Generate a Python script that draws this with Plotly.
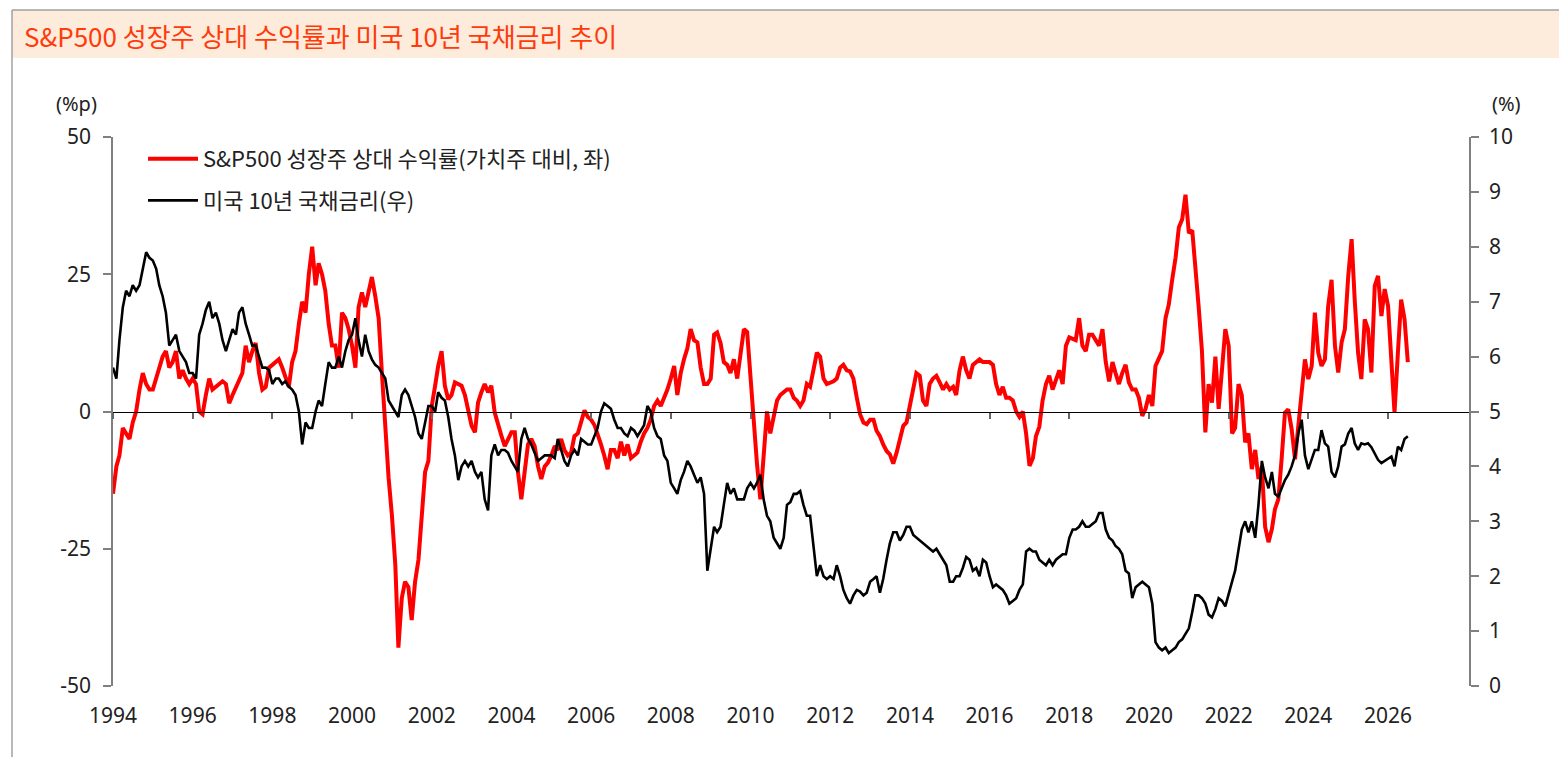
import pandas as pd
import plotly.graph_objects as go

# ---- Data (monthly) ----
# S&P500 growth relative return vs value (%p, left axis)
g1994 = [-15, -10, -8, -3, -4, -5, -2, 0, 4, 7, 5, 4]
g1995 = [4, 6, 7.5, 10, 11, 8, 9, 11, 6, 7.5, 6, 5]
g1996 = [6, 5, 0, -0.5, 3, 6, 4, 4.5, 5, 5.5, 5, 1.5]
g1997 = [3, 4.5, 5.5, 7, 12, 9, 11, 12.5, 7, 4, 4.5, 8]
g1998 = [8.5, 9, 9.5, 8, 6, 4.5, 9, 11, 16, 20, 18, 25]
g1999 = [30, 23, 27, 25, 22, 16, 12, 12, 8, 18, 17, 15]
g2000 = [12, 8, 19, 21.7, 19, 22, 24.5, 21, 17, 7, -4, -12]
g2001 = [-19, -28, -43, -34, -31, -32, -38, -31, -27, -19, -11, -9]
g2002 = [1, 4.7, 8.3, 11, 4.7, 2.2, 3, 5.3, 5, 4.7, 3, -0.2]
g2003 = [-2.6, -3.8, 1.6, 3.5, 5, 3.5, 4.7, -0.2, -2.6, -4.4, -6.3, -5]
g2004 = [-3.8, -3.8, -11, -16, -11, -6, -5, -6.3, -10, -12.3, -10, -9.3]
g2005 = [-8, -6.3, -7, -5, -7, -8, -7.5, -4.5, -4, -2, 0.2, -1]
g2006 = [-1.5, -2.5, -4, -6, -8, -10.5, -7, -7, -8.5, -5.5, -8, -6]
g2007 = [-8.5, -8, -7.5, -5.5, -4, -3, -1.5, 1, 2, 1, 2.5, 4]
g2008 = [6, 8.3, 3, 7, 9.5, 11.5, 15, 13, 12.6, 8, 5, 5]
g2009 = [6, 14, 14.4, 12.5, 9, 8.5, 7, 9.5, 6, 10, 15, 14.5]
g2010 = [6, 0, -9.5, -16, -7.5, 0, -4, -1, 2, 3, 3.5, 4]
g2011 = [4, 2.5, 2, 1, 2, 5, 4.5, 7.5, 10.7, 10, 6, 5]
g2012 = [5.2, 5.5, 6, 8, 8.5, 7.5, 7.3, 6, 2.5, -0.5, -2, -2.3]
g2013 = [-1.5, -1.5, -3.5, -4.5, -6, -7.2, -7.8, -9.5, -7.5, -5, -2.6, -2]
g2014 = [1, 3.5, 7, 6.5, 2, 1, 5, 6, 6.5, 5.3, 4, 5]
g2015 = [4, 4.5, 3, 7.5, 10, 7.5, 6, 8.5, 9, 9.5, 9, 9]
g2016 = [9, 8.5, 5, 3, 4.5, 2.5, 2.5, 2, 0, -1, 0, -4]
g2017 = [-9.9, -8.5, -4.5, -2.8, 2, 5, 6.5, 4, 6, 7.5, 5, 12]
g2018 = [13.5, 13.2, 13, 17, 12, 11, 14, 14, 13, 12, 15, 9]
g2019 = [5.5, 9, 7, 5, 7, 8.5, 5.3, 4, 4, 2.5, -0.8, 0.5]
g2020 = [3, 1, 8.3, 9.5, 11, 17, 19.5, 24, 28, 33.5, 35, 39.5]
g2021 = [32.5, 33, 27, 19, 11, -3.8, 5, 1.6, 10, 0.5, 7.7, 15]
g2022 = [12, -4, -3, 5, 3, -5.6, -4, -10.5, -7, -12.3, -10, -21]
g2023 = [-23.8, -21.4, -17.8, -16, -8.7, -0.2, 0.4, -3.2, -8.7, -2.6, 4.7, 9.5]
g2024 = [5.9, 8.3, 18, 10.7, 8.3, 9.5, 19.2, 24, 12, 7.1, 12.6, 15]
g2025 = [24.7, 31.4, 20.4, 10.7, 5.9, 16.8, 15, 7.1, 22.9, 24.7, 17.4, 22.3]
g2026 = [19.2, 8.3, -0.2, 10.7, 20.4, 16.8, 9]

# US 10Y Treasury yield (%, right axis)
b1994 = [5.8, 5.6, 6.3, 6.9, 7.2, 7.1, 7.3, 7.2, 7.3, 7.6, 7.9, 7.8]
b1995 = [7.75, 7.6, 7.3, 7.1, 6.8, 6.2, 6.3, 6.4, 6.1, 6.0, 5.9, 5.7]
b1996 = [5.7, 5.6, 6.4, 6.6, 6.85, 7.0, 6.7, 6.8, 6.6, 6.3, 6.1, 6.3]
b1997 = [6.5, 6.4, 6.8, 6.9, 6.6, 6.4, 6.2, 6.2, 6.0, 5.8, 5.8, 5.75]
b1998 = [5.5, 5.6, 5.6, 5.5, 5.55, 5.45, 5.4, 5.3, 5.0, 4.4, 4.8, 4.7]
b1999 = [4.7, 5.0, 5.2, 5.1, 5.5, 5.9, 5.8, 5.8, 6.0, 5.8, 6.1, 6.3]
b2000 = [6.4, 6.7, 6.3, 6.0, 6.4, 6.1, 5.95, 5.85, 5.8, 5.7, 5.6, 5.2]
b2001 = [5.1, 5.0, 4.9, 5.3, 5.4, 5.3, 5.1, 4.9, 4.6, 4.5, 4.8, 5.1]
b2002 = [5.1, 5.0, 5.35, 5.25, 5.2, 4.9, 4.5, 4.2, 3.75, 4.0, 4.1, 4.0]
b2003 = [4.1, 3.9, 3.8, 3.9, 3.4, 3.2, 4.2, 4.4, 4.2, 4.3, 4.3, 4.25]
b2004 = [4.1, 4.0, 3.9, 4.5, 4.7, 4.5, 4.4, 4.25, 4.1, 4.15, 4.2, 4.2]
b2005 = [4.2, 4.15, 4.5, 4.3, 4.1, 4.0, 4.2, 4.3, 4.2, 4.5, 4.45, 4.4]
b2006 = [4.4, 4.55, 4.7, 5.0, 5.15, 5.1, 5.05, 4.85, 4.7, 4.7, 4.6, 4.55]
b2007 = [4.7, 4.65, 4.55, 4.65, 4.75, 5.1, 5.0, 4.7, 4.55, 4.5, 4.2, 4.1]
b2008 = [3.7, 3.6, 3.5, 3.75, 3.9, 4.1, 4.0, 3.85, 3.7, 3.8, 3.5, 2.1]
b2009 = [2.5, 2.9, 2.8, 2.9, 3.3, 3.7, 3.5, 3.6, 3.4, 3.4, 3.4, 3.6]
b2010 = [3.7, 3.6, 3.7, 3.85, 3.4, 3.1, 3.0, 2.7, 2.6, 2.5, 2.7, 3.3]
b2011 = [3.35, 3.5, 3.5, 3.55, 3.3, 3.1, 3.1, 2.6, 2.0, 2.2, 2.0, 1.95]
b2012 = [2.0, 1.95, 2.2, 2.0, 1.75, 1.6, 1.5, 1.65, 1.75, 1.72, 1.65, 1.7]
b2013 = [1.9, 1.95, 2.0, 1.7, 1.95, 2.3, 2.6, 2.8, 2.8, 2.65, 2.75, 2.9]
b2014 = [2.9, 2.75, 2.7, 2.65, 2.6, 2.55, 2.5, 2.45, 2.5, 2.4, 2.3, 2.2]
b2015 = [1.9, 1.9, 2.0, 2.0, 2.15, 2.35, 2.3, 2.1, 2.15, 2.0, 2.3, 2.25]
b2016 = [2.0, 1.8, 1.85, 1.8, 1.75, 1.65, 1.5, 1.55, 1.6, 1.75, 1.85, 2.45]
b2017 = [2.5, 2.45, 2.45, 2.3, 2.25, 2.2, 2.3, 2.2, 2.3, 2.35, 2.4, 2.4]
b2018 = [2.7, 2.85, 2.85, 2.9, 3.0, 2.9, 2.9, 2.95, 3.0, 3.15, 3.15, 2.85]
b2019 = [2.7, 2.65, 2.55, 2.5, 2.4, 2.1, 2.05, 1.6, 1.8, 1.85, 1.9, 1.85]
b2020 = [1.8, 1.5, 0.8, 0.7, 0.65, 0.7, 0.6, 0.65, 0.7, 0.8, 0.85, 0.95]
b2021 = [1.05, 1.35, 1.65, 1.65, 1.6, 1.5, 1.3, 1.25, 1.4, 1.6, 1.55, 1.45]
b2022 = [1.7, 1.9, 2.1, 2.5, 2.85, 3.0, 2.8, 3.0, 2.7, 3.3, 4.1, 3.8]
b2023 = [3.6, 3.9, 3.5, 3.45, 3.6, 3.75, 3.85, 4.0, 4.2, 4.6, 4.85, 4.2]
b2024 = [3.95, 4.15, 4.3, 4.3, 4.66, 4.42, 4.36, 3.9, 3.8, 4.0, 4.36, 4.4]
b2025 = [4.6, 4.7, 4.42, 4.3, 4.42, 4.4, 4.42, 4.35, 4.24, 4.12, 4.06, 4.1]
b2026 = [4.15, 4.18, 4.0, 4.36, 4.3, 4.5, 4.55]

growth_rel = sum([g1994, g1995, g1996, g1997, g1998, g1999, g2000, g2001, g2002,
                  g2003, g2004, g2005, g2006, g2007, g2008, g2009, g2010, g2011,
                  g2012, g2013, g2014, g2015, g2016, g2017, g2018, g2019, g2020,
                  g2021, g2022, g2023, g2024, g2025, g2026], [])
ust10y = sum([b1994, b1995, b1996, b1997, b1998, b1999, b2000, b2001, b2002,
              b2003, b2004, b2005, b2006, b2007, b2008, b2009, b2010, b2011,
              b2012, b2013, b2014, b2015, b2016, b2017, b2018, b2019, b2020,
              b2021, b2022, b2023, b2024, b2025, b2026], [])

dates_g = pd.date_range("1994-01-01", periods=len(growth_rel), freq="MS")
dates_b = pd.date_range("1994-01-01", periods=len(ust10y), freq="MS")

# axis ticks / labels
year_ticks = [f"{y}-01-01" for y in range(1994, 2027, 2)]
year_labels = [str(y) for y in range(1994, 2027, 2)]
left_ticks = [-50, -25, 0, 25, 50]
left_labels = ["-50", "-25", "0", "25", "50"]
right_ticks = list(range(0, 11))
right_labels = [str(v) for v in right_ticks]

name_g = "S&P500 성장주 상대 수익률(가치주 대비, 좌)"
name_b = "미국 10년 국채금리(우)"
title_text = "S&P500 성장주 상대 수익률과 미국 10년 국채금리 추이"
left_unit = "(%p)"
right_unit = "(%)"

x_range = ["1994-01-01", "2028-01-22"]
FONT = "Noto Sans CJK KR, Noto Sans, sans-serif"
NUMFONT = "Noto Sans, Open Sans, sans-serif"
AXIS_GRAY = "#808080"
TXT = "#222222"

fig = go.Figure()
fig.add_trace(go.Scatter(x=dates_g, y=growth_rel, name=name_g, mode="lines",
                         line=dict(color="#FF0000", width=4),
                         xaxis="x", yaxis="y", legendgroup="g"))
fig.add_trace(go.Scatter(x=dates_b, y=ust10y, name=name_b, mode="lines",
                         line=dict(color="#000000", width=2.6),
                         xaxis="x2", yaxis="y2", legendgroup="b"))

# layout geometry (page has an 8px body offset)
OFF = 8
W, H = 1567 - OFF, 757 - OFF
L, T = 113 - OFF, 137 - OFF
R = W - (1470 - OFF)
B = H - (686 - OFF)
pw, ph = W - L - R, H - T - B


def px(xp):
    return (xp - OFF - L) / pw


def py(yp):
    return (H - B - (yp - OFF)) / ph


fig.update_layout(
    width=W, height=H,
    margin=dict(l=L, r=R, t=T, b=B, pad=0),
    paper_bgcolor="white", plot_bgcolor="white",
    font=dict(family=FONT, size=20, color=TXT),
    showlegend=True,
    legend=dict(x=px(143), y=py(138), xanchor="left", yanchor="top",
                bgcolor="rgba(0,0,0,0)", font=dict(family=FONT, size=22, color=TXT),
                tracegroupgap=10, itemwidth=50),
    xaxis=dict(range=x_range, type="date", tickvals=year_ticks, ticktext=year_labels,
               showline=False, ticks="", showgrid=False,
               zeroline=False, tickfont=dict(family=NUMFONT, size=21, color=TXT),
               ticklabelstandoff=15, automargin=False),
    xaxis2=dict(range=x_range, type="date", overlaying="x", anchor="free", position=0.5,
                tickvals=year_ticks, showticklabels=False,
                showline=True, linecolor="#000000", linewidth=1,
                ticks="outside", ticklen=6, tickcolor="#666666", tickwidth=1.5,
                showgrid=False, zeroline=False, automargin=False),
    yaxis=dict(range=[-50, 50], tickvals=left_ticks, ticktext=left_labels,
               showline=True, linecolor=AXIS_GRAY, linewidth=1.5,
               ticks="outside", ticklen=8, tickcolor=AXIS_GRAY, tickwidth=1.5,
               showgrid=False, zeroline=False,
               tickfont=dict(family=NUMFONT, size=21, color=TXT),
               ticklabelstandoff=8, automargin=False),
    yaxis2=dict(range=[0, 10], tickvals=right_ticks, ticktext=right_labels,
                overlaying="y", side="right", anchor="free", position=1,
                showline=True, linecolor=AXIS_GRAY, linewidth=1.5,
                ticks="outside", ticklen=8, tickcolor=AXIS_GRAY, tickwidth=1.5,
                showgrid=False, zeroline=False,
                tickfont=dict(family=NUMFONT, size=21, color=TXT),
                ticklabelstandoff=6, automargin=False),
)

# frame + title band
fig.add_shape(type="rect", xref="paper", yref="paper",
              x0=px(12), x1=px(1565), y0=py(58), y1=py(10),
              fillcolor="#FDEBDC", line=dict(width=0), layer="below")
for (x0, x1, y0, y1) in [(12, 12, 757, 10), (1565, 1565, 757, 10), (12, 1565, 10, 10)]:
    fig.add_shape(type="line", xref="paper", yref="paper",
                  x0=px(x0), x1=px(x1), y0=py(y0), y1=py(y1),
                  line=dict(color="#A0A0A0", width=1.5))

fig.add_annotation(text=title_text, xref="paper", yref="paper",
                   x=px(22), y=py(36), xanchor="left", yanchor="middle",
                   showarrow=False, font=dict(family=FONT, size=26, color="#FF3B0A"))
fig.add_annotation(text=left_unit, xref="paper", yref="paper",
                   x=px(76), y=py(103), xanchor="center", yanchor="middle",
                   showarrow=False, font=dict(family=NUMFONT, size=20, color=TXT))
fig.add_annotation(text=right_unit, xref="paper", yref="paper",
                   x=px(1506), y=py(103), xanchor="center", yanchor="middle",
                   showarrow=False, font=dict(family=NUMFONT, size=20, color=TXT))

fig.write_html("out.html")
